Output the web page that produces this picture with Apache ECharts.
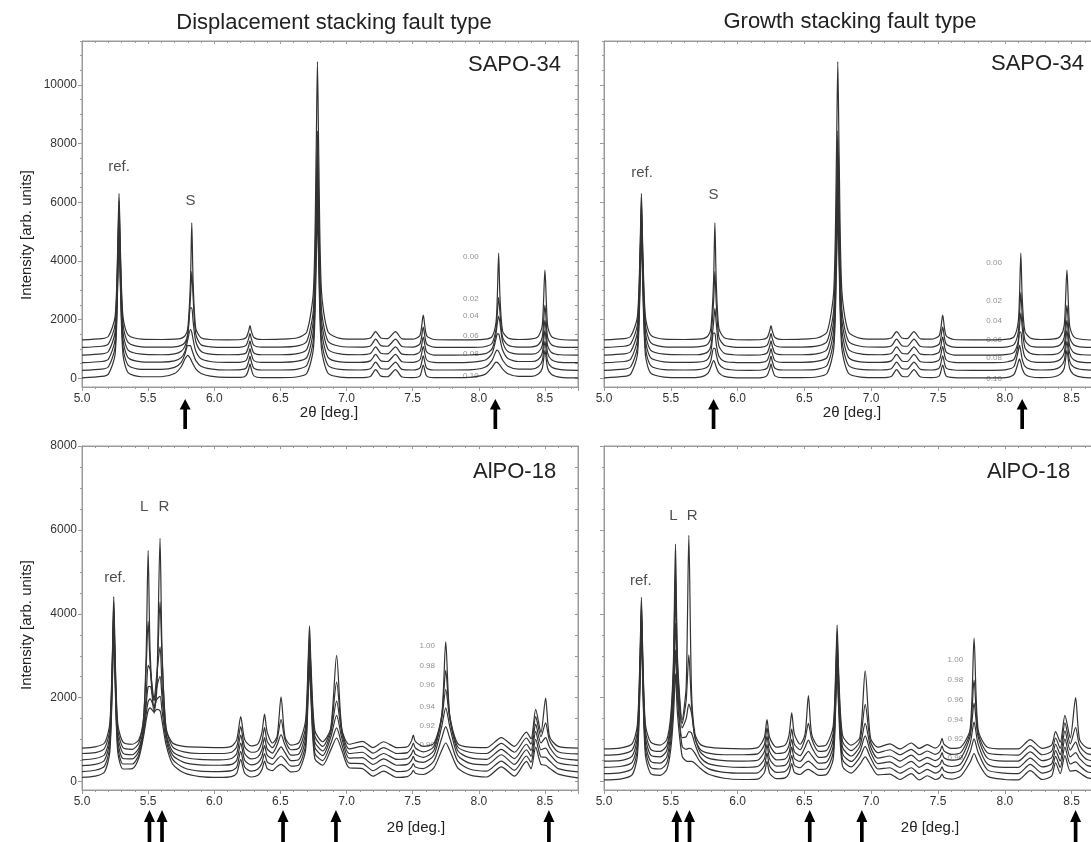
<!DOCTYPE html>
<html><head><meta charset="utf-8">
<script src="https://cdn.jsdelivr.net/npm/echarts@6/dist/echarts.min.js"></script>
<style>html,body{margin:0;padding:0;background:#fff;overflow:hidden}#c{width:1120px;height:842px}</style>
</head><body><div id="c"></div>
<script>
// ---------- tick labels ----------
const yTicksTop = [0, 2000, 4000, 6000, 8000, 10000];
const yTicksBottom = [0, 2000, 4000, 6000, 8000];

// ---------- SAPO-34, displacement (top-left) ----------
const xTL = [5.00,5.15,5.20,5.25,5.27,5.28,5.29,5.31,5.35,5.45,5.60,5.70,5.75,5.78,5.80,5.82,5.83,5.84,5.86,5.90,5.97,6.10,6.20,6.24,6.26,6.27,6.28,6.30,6.36,6.50,6.63,6.70,6.75,6.77,6.78,6.79,6.81,6.86,6.95,7.10,7.18,7.22,7.26,7.31,7.37,7.42,7.50,7.555,7.58,7.605,7.66,7.80,7.95,8.05,8.10,8.13,8.14,8.15,8.16,8.18,8.22,8.30,8.40,8.45,8.48,8.50,8.52,8.55,8.62,8.75];
const tlF000 = [1310,1350,1430,2090,4440,6300,4440,2090,1470,1330,1320,1330,1360,1450,1700,3300,5300,3300,1700,1380,1320,1310,1320,1380,1610,1790,1610,1390,1320,1330,1380,1580,3000,7590,10800,7590,3000,1580,1360,1330,1370,1590,1370,1350,1590,1340,1330,1460,2150,1460,1320,1310,1310,1330,1420,1900,2790,4270,2790,1610,1370,1320,1340,1430,1800,3690,1800,1420,1320,1300];
const tlF002 = [1050,1090,1170,1830,4180,6040,4180,1830,1210,1070,1060,1070,1120,1230,1500,2760,3640,2760,1500,1140,1070,1050,1060,1120,1350,1530,1350,1120,1060,1060,1100,1260,2370,5940,8440,5940,2370,1260,1090,1060,1100,1330,1110,1090,1330,1080,1060,1170,1740,1170,1060,1050,1050,1080,1190,1670,2230,2760,2230,1390,1130,1060,1070,1140,1400,2490,1400,1140,1060,1050];
const tlF004 = [790,830,910,1570,3920,5780,3920,1570,950,820,800,830,920,1110,1520,2400,2400,1940,1260,920,820,800,810,860,1090,1270,1090,860,800,800,840,990,2020,5350,7680,5350,2020,990,830,800,840,1070,850,830,1070,820,800,900,1400,900,790,790,800,840,1000,1510,1890,2110,1890,1250,910,820,820,890,1120,1980,1120,880,800,790];
const tlF006 = [530,570,650,1310,3660,5520,3660,1310,690,560,550,590,700,930,1320,1670,1560,1320,930,660,570,540,550,600,830,1010,830,600,540,540,580,710,1670,4760,6920,4760,1670,710,560,540,590,810,590,570,810,560,540,630,1080,630,540,530,550,620,840,1340,1510,1510,1340,960,670,570,570,640,860,1620,860,630,540,530];
const tlF008 = [270,310,390,1050,3400,5260,3400,1050,440,300,300,370,540,840,1110,1110,980,840,610,410,320,280,290,340,570,750,570,340,280,280,310,440,1330,4230,6260,4230,1330,440,300,280,320,550,330,310,550,300,280,350,760,350,280,280,290,380,610,920,960,910,820,620,410,310,310,390,600,1260,590,380,290,270];
const tlF010 = [10,60,140,800,3150,5010,3150,800,180,50,50,160,390,670,780,670,570,480,320,160,70,30,30,90,310,490,310,80,20,20,50,170,1020,3770,5700,3770,1020,170,40,20,60,290,70,50,290,40,20,80,450,80,20,20,40,140,370,550,540,500,440,310,150,60,60,140,340,950,340,130,30,10];

// ---------- SAPO-34, growth (top-right) ----------
const xTR = [5.00,5.15,5.20,5.25,5.27,5.28,5.29,5.31,5.35,5.45,5.60,5.70,5.75,5.78,5.80,5.82,5.83,5.84,5.86,5.90,5.97,6.09,6.18,6.22,6.24,6.25,6.26,6.28,6.34,6.48,6.60,6.67,6.72,6.74,6.75,6.76,6.78,6.83,6.92,7.07,7.15,7.19,7.23,7.27,7.32,7.37,7.45,7.51,7.535,7.56,7.62,7.76,7.92,8.02,8.07,8.10,8.11,8.12,8.13,8.15,8.19,8.27,8.37,8.415,8.445,8.465,8.485,8.515,8.585,8.75];
const trF000 = [1310,1350,1430,2090,4440,6300,4440,2090,1470,1330,1320,1330,1360,1450,1700,3300,5300,3300,1700,1380,1320,1310,1320,1380,1610,1790,1610,1390,1320,1330,1380,1580,3000,7590,10800,7590,3000,1580,1360,1330,1370,1590,1370,1350,1590,1340,1330,1460,2150,1460,1320,1310,1310,1330,1420,1900,2790,4270,2790,1610,1370,1320,1340,1430,1800,3690,1800,1420,1320,1300];
const trF002 = [1050,1090,1170,1830,4180,6040,4180,1830,1210,1070,1060,1070,1100,1180,1400,2580,3640,2580,1400,1120,1060,1050,1060,1120,1350,1530,1350,1120,1060,1060,1100,1260,2370,5940,8440,5940,2370,1260,1090,1060,1100,1330,1110,1090,1330,1080,1060,1170,1740,1170,1060,1050,1050,1070,1150,1550,2170,2940,2170,1310,1100,1060,1070,1140,1400,2490,1400,1140,1060,1050];
const trF004 = [790,830,910,1570,3920,5780,3920,1570,950,820,800,800,840,910,1100,1890,2380,1890,1100,850,800,790,800,860,1090,1270,1090,860,800,800,840,990,2020,5350,7680,5350,2020,990,830,800,840,1070,850,830,1070,820,800,900,1400,900,790,790,790,810,890,1260,1750,2230,1750,1050,850,800,810,890,1120,1980,1120,880,800,790];
const trF006 = [530,570,650,1310,3660,5520,3660,1310,690,560,540,550,580,670,900,1540,1540,1170,750,580,540,530,540,600,830,1010,830,600,540,540,580,710,1670,4760,6920,4760,1670,710,560,540,590,810,590,570,810,560,540,630,1080,630,540,530,530,560,650,1140,1570,1570,1140,730,580,540,560,640,860,1620,860,630,540,530];
const trF008 = [270,310,390,1050,3400,5260,3400,1050,430,290,280,290,330,410,610,1020,1020,810,490,330,280,270,280,340,570,750,570,340,280,280,310,440,1330,4230,6260,4230,1330,440,300,280,320,550,330,310,550,300,280,350,760,350,280,270,270,300,410,920,1120,920,650,410,310,280,300,390,600,1260,590,380,290,270];
const trF010 = [10,60,140,800,3150,5010,3150,800,170,40,20,30,80,180,380,600,530,380,180,60,20,10,20,90,310,490,310,80,20,20,50,170,1020,3770,5700,3770,1020,170,40,20,60,290,70,50,290,40,20,80,450,80,20,10,10,30,140,530,660,530,330,140,50,20,50,140,340,950,340,130,30,10];

// ---------- AlPO-18, displacement (bottom-left) ----------
const xBL = [5.00,5.10,5.17,5.21,5.23,5.24,5.25,5.27,5.31,5.38,5.43,5.465,5.485,5.50,5.515,5.545,5.565,5.59,5.605,5.635,5.685,5.77,5.89,6.04,6.13,6.17,6.20,6.23,6.28,6.33,6.36,6.38,6.40,6.44,6.475,6.505,6.535,6.58,6.64,6.69,6.71,6.72,6.73,6.76,6.82,6.88,6.925,6.965,7.02,7.12,7.20,7.28,7.38,7.46,7.49,7.505,7.52,7.58,7.66,7.72,7.75,7.78,7.84,7.93,8.06,8.17,8.27,8.36,8.395,8.43,8.47,8.505,8.535,8.60,8.75];
const blF100 = [800,830,920,1380,3080,4410,3080,1390,940,890,1000,1500,3030,5510,3100,1630,2160,5800,3150,1270,920,840,820,810,840,1000,1550,1000,850,900,1170,1610,1180,920,1070,2020,1060,870,930,1450,2900,3710,2900,1220,950,1260,3010,1240,890,960,810,950,810,830,960,1110,960,840,910,1580,3340,1580,910,820,810,1050,840,1180,1020,1720,1170,1990,1070,840,800];
const blF098 = [670,690,790,1240,2940,4270,2950,1250,810,770,920,1490,2700,3820,2800,1720,2280,4290,3000,1290,830,710,670,670,700,830,1310,830,700,740,950,1290,960,810,1010,1480,1000,760,800,1290,2690,3480,2700,1090,840,1240,2370,1220,780,840,680,810,670,690,800,920,800,710,830,1580,2650,1580,830,700,670,910,700,1040,890,1550,1070,1400,980,710,660];
const blF096 = [520,550,640,1100,2800,4130,2800,1110,680,640,800,1300,2040,2770,2680,1970,2540,3210,2320,1170,720,580,530,520,550,670,1110,670,540,590,760,1050,780,680,870,1120,870,630,660,1160,2530,3290,2530,950,730,1160,1920,1140,670,700,540,670,530,550,650,760,650,580,740,1500,2200,1500,740,570,530,770,550,890,740,1370,920,1050,820,580,510];
const blF094 = [380,410,510,970,2670,4000,2670,990,550,540,730,1240,1830,2260,2270,1930,2250,2510,2010,1120,630,460,400,390,410,510,920,510,400,450,600,860,630,550,700,830,690,500,530,1020,2370,3120,2360,820,620,1050,1580,1030,560,570,410,540,390,410,500,600,500,460,630,1320,1760,1320,630,440,400,640,410,760,600,1200,760,800,660,450,380];
const blF092 = [240,270,370,830,2530,3860,2540,850,420,420,640,1150,1610,1910,1970,1790,1960,2030,1700,1010,530,330,250,240,260,350,720,350,250,300,440,670,470,410,530,610,520,370,400,870,2200,2930,2190,680,500,900,1280,880,440,430,260,390,240,260,340,430,350,310,490,1040,1310,1040,490,300,250,490,270,610,460,1010,590,580,490,310,230];
const blF090 = [100,130,230,700,2400,3740,2410,720,300,310,570,1070,1460,1690,1760,1660,1720,1690,1450,890,420,210,120,100,120,200,530,200,110,150,280,490,310,260,360,410,350,230,270,740,2040,2750,2030,550,390,750,1040,740,330,310,130,250,100,120,190,270,200,170,330,750,920,750,330,160,110,350,130,480,310,820,410,390,320,180,90];

// ---------- AlPO-18, growth (bottom-right) ----------
const xBR = [5.00,5.12,5.21,5.25,5.27,5.28,5.29,5.31,5.35,5.42,5.47,5.50,5.52,5.535,5.55,5.585,5.615,5.635,5.655,5.68,5.72,5.78,5.90,6.04,6.15,6.20,6.22,6.24,6.29,6.355,6.385,6.405,6.425,6.468,6.505,6.53,6.555,6.608,6.665,6.715,6.735,6.745,6.755,6.785,6.85,6.915,6.955,6.995,7.05,7.14,7.215,7.30,7.36,7.42,7.48,7.515,7.53,7.545,7.60,7.67,7.74,7.77,7.80,7.87,8.00,8.10,8.19,8.28,8.35,8.38,8.415,8.45,8.49,8.53,8.56,8.62,8.75];
const brF100 = [780,800,900,1360,3060,4390,3060,1360,940,870,1000,1590,2910,5660,2960,1470,2260,5870,2160,1150,890,820,790,780,810,1050,1480,1050,820,870,1110,1640,1130,890,1130,2050,1120,840,880,1310,2730,3730,2730,1110,870,1050,2640,1040,820,900,780,920,790,880,800,890,1030,890,790,820,1240,3420,1240,820,780,780,1000,790,870,1190,940,1580,1040,2000,1000,800,780];
const brF098 = [630,650,750,1210,2910,4240,2910,1220,770,720,860,1460,2700,5030,2780,1380,1940,3020,1840,1050,770,680,640,640,660,880,1280,880,670,700,870,1250,890,760,1020,1390,1010,720,740,1150,2550,3540,2550,960,740,960,1840,950,690,760,640,770,640,730,650,720,850,730,650,690,1170,2420,1170,690,640,630,860,640,720,1040,790,1400,900,1290,860,660,630];
const brF096 = [490,500,610,1060,2760,4090,2770,1070,630,590,740,1340,2490,4430,2580,1280,1500,1850,1630,1080,710,560,500,490,510,710,1080,710,520,540,690,1010,710,620,820,990,820,580,600,1000,2370,3340,2380,820,610,840,1390,830,560,610,490,630,490,580,500,570,690,570,510,560,1070,1870,1070,560,490,490,710,500,570,890,640,1210,750,940,710,520,480];
const brF094 = [340,360,460,920,2620,3950,2620,920,480,440,590,1160,2200,3780,2280,1050,1070,1190,1160,900,590,430,360,340,360,540,880,540,370,390,530,820,550,480,630,720,620,440,460,840,2190,3150,2200,670,480,720,1090,710,430,470,340,480,340,440,350,410,520,420,360,420,900,1420,900,420,340,340,560,350,420,740,490,1020,590,690,550,380,340];
const brF092 = [190,210,310,770,2470,3800,2470,780,340,300,440,980,1880,3140,1950,840,770,790,780,680,470,310,220,200,210,380,680,370,220,240,360,620,390,330,440,490,430,290,310,690,2020,2960,2020,530,350,580,840,570,300,330,200,330,190,290,200,260,350,260,210,280,700,1020,700,280,200,190,410,200,280,600,340,820,420,470,380,230,190];
const brF090 = [40,60,160,620,2320,3650,2320,630,190,150,290,780,1570,2570,1620,600,490,480,480,440,320,180,80,50,60,210,480,200,70,90,200,430,220,170,260,290,250,150,170,530,1840,2760,1850,370,200,410,590,400,160,180,50,190,40,140,50,100,180,100,60,130,460,670,460,130,50,40,260,50,130,450,190,620,250,270,210,90,40];

// ---------- annotations (data coordinates) ----------
const faultNamesTop = ['0.00','0.02','0.04','0.06','0.08','0.10'];
const faultNamesBottom = ['1.00','0.98','0.96','0.94','0.92','0.90'];
const faultPosTL = [[7.94,4150],[7.94,2700],[7.94,2130],[7.94,1450],[7.94,820],[7.94,90]];
const faultPosTR = [[7.92,3920],[7.92,2630],[7.92,1950],[7.92,1300],[7.92,680],[7.92,-30]];
const faultPosBL = [[7.61,3240],[7.61,2760],[7.61,2310],[7.61,1790],[7.61,1330],[7.61,880]];
const faultPosBR = [[7.63,2900],[7.63,2430],[7.63,1950],[7.63,1480],[7.63,1020],[7.63,570]];
const peakTagsTL = [['ref.',5.28,7200],['S',5.82,6040]];
const peakTagsTR = [['ref.',5.285,7000],['S',5.82,6250]];
const peakTagsBL = [['ref.',5.25,4860],['L',5.47,6550],['R',5.62,6550]];
const peakTagsBR = [['ref.',5.275,4790],['L',5.52,6330],['R',5.66,6330]];
const arrowsTL = [5.78, 8.125];
const arrowsTR = [5.82, 8.13];
const arrowsBL = [5.51, 5.605, 6.52, 6.92, 8.53];
const arrowsBR = [5.545, 5.64, 6.54, 6.93, 8.53];

// ---------- build ----------
const FONT = '"Liberation Sans", Arial, sans-serif';
const AX = '#9a9a9a';
const panels = [
  {grid:{left:82, top:41, width:496, height:346}, x:xTL, curves:[tlF000,tlF002,tlF004,tlF006,tlF008,tlF010], ymin:-300, ymax:11500, ticks:yTicksTop, labels:true, fNames:faultNamesTop, fPos:faultPosTL, tags:peakTagsTL, arrows:arrowsTL, arrowOff:27, arrowLen:30},
  {grid:{left:604, top:41, width:501, height:346}, x:xTR, curves:[trF000,trF002,trF004,trF006,trF008,trF010], ymin:-300, ymax:11500, ticks:yTicksTop, labels:false, fNames:faultNamesTop, fPos:faultPosTR, tags:peakTagsTR, arrows:arrowsTR, arrowOff:27, arrowLen:30},
  {grid:{left:82, top:446, width:496, height:344}, x:xBL, curves:[blF100,blF098,blF096,blF094,blF092,blF090], ymin:-200, ymax:8000, ticks:yTicksBottom, labels:true, fNames:faultNamesBottom, fPos:faultPosBL, tags:peakTagsBL, arrows:arrowsBL, arrowOff:37, arrowLen:34},
  {grid:{left:604, top:446, width:501, height:344}, x:xBR, curves:[brF100,brF098,brF096,brF094,brF092,brF090], ymin:-200, ymax:8000, ticks:yTicksBottom, labels:false, fNames:faultNamesBottom, fPos:faultPosBR, tags:peakTagsBR, arrows:arrowsBR, arrowOff:37, arrowLen:34}
];
const ARROW = 'path://M6 0 L12 12 L8 12 L8 34 L4 34 L4 12 L0 12 Z';

const grids = [], xAxes = [], yAxes = [], series = [];
panels.forEach((p, g) => {
  grids.push(Object.assign({show:true, borderColor:AX, borderWidth:1, containLabel:false}, p.grid));
  const minor = [];
  for (let v = 0; v <= p.ymax; v += 500) minor.push(v);
  xAxes.push({gridIndex:g, type:'value', min:5, max:8.75, interval:0.5, position:'bottom',
    axisLine:{show:true, onZero:false, lineStyle:{color:AX}},
    axisTick:{show:true, length:4, lineStyle:{color:AX}},
    minorTick:{show:true, splitNumber:5, length:2, lineStyle:{color:AX}},
    splitLine:{show:false}, minorSplitLine:{show:false},
    axisLabel:{show:true, showMaxLabel:false, formatter:v => v.toFixed(1), color:'#333', fontSize:12, fontFamily:FONT, margin:6}});
  xAxes.push({gridIndex:g, type:'value', min:5, max:8.75, interval:0.5, position:'top',
    axisLine:{show:true, onZero:false, lineStyle:{color:AX}},
    axisTick:{show:true, inside:true, length:3, lineStyle:{color:AX}},
    minorTick:{show:true, splitNumber:5, length:2, lineStyle:{color:AX}},
    splitLine:{show:false}, axisLabel:{show:false}});
  yAxes.push({gridIndex:g, type:'value', min:p.ymin, max:p.ymax, position:'left',
    axisLine:{show:true, onZero:false, lineStyle:{color:AX}},
    axisTick:{show:true, length:4, customValues:p.ticks, lineStyle:{color:AX}},
    splitLine:{show:false},
    axisLabel:{show:p.labels, customValues:p.ticks, formatter:v => String(v), color:'#333', fontSize:12, fontFamily:FONT, margin:5}});
  yAxes.push({gridIndex:g, type:'value', min:p.ymin, max:p.ymax, position:'left',
    axisLine:{show:false}, axisTick:{show:true, length:2, customValues:minor, lineStyle:{color:AX}},
    splitLine:{show:false}, axisLabel:{show:false}});
  yAxes.push({gridIndex:g, type:'value', min:p.ymin, max:p.ymax, position:'right',
    axisLine:{show:true, onZero:false, lineStyle:{color:AX}},
    axisTick:{show:true, inside:true, length:3, customValues:minor, lineStyle:{color:AX}},
    splitLine:{show:false}, axisLabel:{show:false}});
  const xi = 2*g, yi = 3*g;
  p.curves.forEach(c => {
    series.push({type:'line', xAxisIndex:xi, yAxisIndex:yi, showSymbol:false, symbol:'none', silent:true, z:3,
      smooth:0.25, lineStyle:{color:'#333', width:1.2}, data:p.x.map((v,i) => [v, c[i]])});
  });
  series.push({type:'scatter', xAxisIndex:xi, yAxisIndex:yi, symbolSize:1, silent:true, z:2,
    itemStyle:{color:'rgba(0,0,0,0)'},
    label:{show:true, position:'inside', formatter:q => q.name, color:'#777', fontSize:8, fontFamily:FONT},
    data:p.fNames.map((n,i) => ({name:n, value:p.fPos[i]}))});
  series.push({type:'scatter', xAxisIndex:xi, yAxisIndex:yi, symbolSize:1, silent:true, z:4,
    itemStyle:{color:'rgba(0,0,0,0)'},
    label:{show:true, position:'inside', formatter:q => q.name, color:'#222', fontSize:15, fontFamily:FONT},
    data:p.tags.map(t => ({name:t[0], value:[t[1], t[2]]}))});
  series.push({type:'scatter', xAxisIndex:xi, yAxisIndex:yi, clip:false, silent:true, z:5,
    symbol:ARROW, symbolSize:[11, p.arrowLen], symbolOffset:[0, p.arrowOff],
    itemStyle:{color:'#000', opacity:1}, data:p.arrows.map(a => [a, p.ymin])});
});

const txt = (text, x, y, size, opts) => Object.assign({type:'text', x:x, y:y, silent:true,
  style:{text:text, font:size + 'px ' + FONT, fill:'#222', align:'center', verticalAlign:'middle'}}, opts || {});
const leftTxt = (text, x, y) => ({type:'text', x:x, y:y, silent:true,
  style:{text:text, font:'22px ' + FONT, fill:'#222', align:'left', verticalAlign:'middle'}});
const graphic = [
  txt('Displacement stacking fault type', 334, 23, 22),
  txt('Growth stacking fault type', 850, 22, 22),
  leftTxt('SAPO-34', 468, 65),
  leftTxt('SAPO-34', 991, 64),
  leftTxt('AlPO-18', 473, 472),
  leftTxt('AlPO-18', 987, 472),
  txt('2θ [deg.]', 329, 413, 15),
  txt('2θ [deg.]', 852, 413, 15),
  txt('2θ [deg.]', 416, 828, 15),
  txt('2θ [deg.]', 930, 828, 15),
  txt('Intensity [arb. units]', 27, 235, 15, {rotation:Math.PI/2}),
  txt('Intensity [arb. units]', 27, 625, 15, {rotation:Math.PI/2})
];

const chart = echarts.init(document.getElementById('c'), null, {renderer:'canvas'});
chart.setOption({animation:false, backgroundColor:'#fff', grid:grids, xAxis:xAxes, yAxis:yAxes, series:series, graphic:graphic});
</script></body></html>
